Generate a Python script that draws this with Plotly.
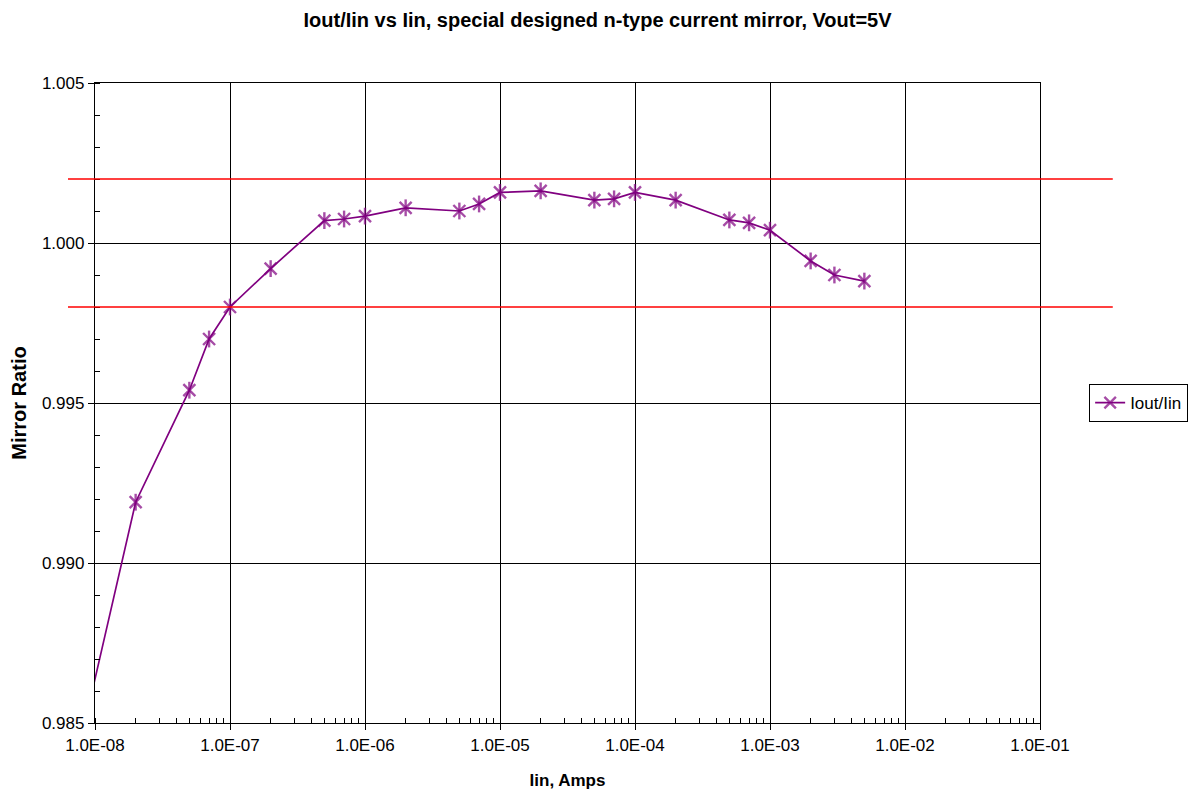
import plotly.graph_objects as go

# Data
iin = [9.3e-9, 2e-8, 5e-8, 7e-8, 1e-7, 2e-7, 5e-7, 7e-7, 1e-6, 2e-6, 5e-6, 7e-6,
       1e-5, 2e-5, 5e-5, 7e-5, 1e-4, 2e-4, 5e-4, 7e-4, 1e-3, 2e-3, 3e-3, 5e-3]
ratio = [0.9858, 0.9919, 0.9954, 0.9970, 0.9980, 0.9992, 1.0007, 1.00075, 1.00084,
         1.0011, 1.0010, 1.00122, 1.00158, 1.00163, 1.00134, 1.00138, 1.00158,
         1.00134, 1.00072, 1.00063, 1.0004, 0.99944, 0.9990, 0.99881]
limit_lines = [1.002, 0.998]

x_tick_vals = [1e-8, 1e-7, 1e-6, 1e-5, 1e-4, 1e-3, 1e-2, 1e-1]
x_tick_text = ["1.0E-08", "1.0E-07", "1.0E-06", "1.0E-05", "1.0E-04",
               "1.0E-03", "1.0E-02", "1.0E-01"]
y_tick_vals = [0.985, 0.990, 0.995, 1.000, 1.005]
y_tick_text = ["0.985", "0.990", "0.995", "1.000", "1.005"]

PURPLE = "#800080"
FONT = "Liberation Sans, Arial, sans-serif"

marker_sizes = [0] + [12] * (len(iin) - 1)

W, H = 1191, 782

fig = go.Figure()
fig.add_trace(go.Scatter(
    x=iin, y=ratio, mode="lines+markers", name="Iout/Iin",
    line=dict(color=PURPLE, width=1.7),
    marker=dict(symbol="x-thin-open", size=marker_sizes, color=PURPLE,
                line=dict(color=PURPLE, width=2.4)),
))
fig.add_trace(go.Scatter(
    x=iin, y=ratio, mode="markers", showlegend=False, hoverinfo="skip",
    marker=dict(symbol="line-ns-open", size=marker_sizes, color=PURPLE,
                line=dict(color=PURPLE, width=2.4)),
))

for yv in limit_lines:
    fig.add_shape(type="line", xref="paper", yref="y",
                  x0=-0.0286, x1=1.077, y0=yv, y1=yv,
                  line=dict(color="#ff0000", width=1.5), layer="above")

fig.update_layout(
    width=W, height=H,
    margin=dict(l=87, r=159, t=75, b=67, autoexpand=False),
    paper_bgcolor="white", plot_bgcolor="white",
    font=dict(family=FONT, size=17, color="black"),
    title=dict(text="<b>Iout/Iin vs Iin, special designed n-type current mirror, Vout=5V</b>",
               x=0.495, xref="container", xanchor="center",
               y=1 - 12 / H, yref="container", yanchor="middle",
               font=dict(size=20, family=FONT, color="black")),
    legend=dict(x=1.052, xanchor="left", y=0.5, yanchor="middle",
                bordercolor="black", borderwidth=1, bgcolor="white",
                font=dict(size=17, family=FONT), itemwidth=30,
                tracegroupgap=0),
    showlegend=True,
)

fig.update_xaxes(
    type="log", range=[-8, -1], automargin=False,
    tickvals=x_tick_vals, ticktext=x_tick_text,
    showgrid=True, gridcolor="black", gridwidth=1,
    showline=True, linecolor="black", linewidth=1.3, mirror=True,
    ticks="outside", ticklen=6, tickcolor="black",
    minor=dict(ticks="inside", ticklen=5, tickcolor="black", showgrid=False, dtick="D1"),
    zeroline=False,
    title=dict(text="<b>Iin, Amps</b>", font=dict(size=17, family=FONT), standoff=20),
    tickfont=dict(size=17, family=FONT),
)
fig.update_yaxes(
    range=[0.985, 1.005], automargin=False,
    tickvals=y_tick_vals, ticktext=y_tick_text,
    showgrid=True, gridcolor="black", gridwidth=1,
    showline=True, linecolor="black", linewidth=1.3, mirror=True,
    ticks="outside", ticklen=6, tickcolor="black",
    minor=dict(ticks="inside", ticklen=5, tickcolor="black", showgrid=False, dtick=0.001),
    zeroline=False,
    title=dict(text="<b>Mirror Ratio</b>", font=dict(size=20, family=FONT), standoff=12),
    tickfont=dict(size=17, family=FONT),
)

fig.write_html("out.html")
